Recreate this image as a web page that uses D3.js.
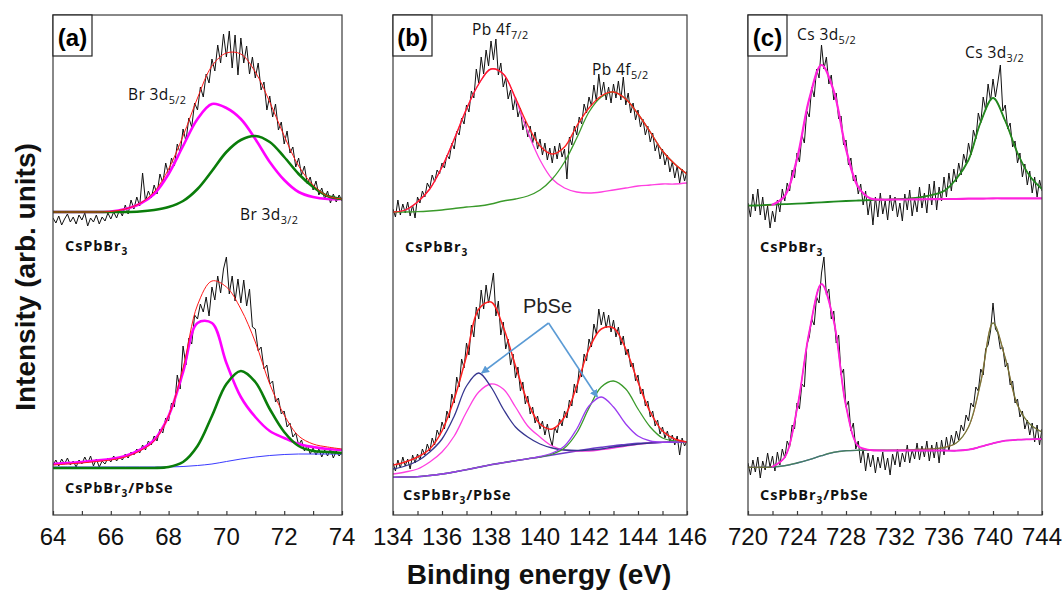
<!DOCTYPE html>
<html>
<head>
<meta charset="utf-8">
<script src="https://cdnjs.cloudflare.com/ajax/libs/d3/7.8.5/d3.min.js"></script>
<style>
  body { margin: 0; background: #fff; }
  svg { display: block; }
</style>
</head>
<body>
<div id="chart"></div>
<script>
// ---------- axes ----------
const domainA = [64, 74], domainB = [134, 146], domainC = [720, 744];
const ticksA = [64, 65, 66, 67, 68, 69, 70, 71, 72, 73, 74];
const ticksB = [134, 135, 136, 137, 138, 139, 140, 141, 142, 143, 144, 145, 146];
const ticksC = [720, 722, 724, 726, 728, 730, 732, 734, 736, 738, 740, 742, 744];
const tickLabelsA = [64, 66, 68, 70, 72, 74];
const tickLabelsB = [134, 136, 138, 140, 142, 144, 146];
const tickLabelsC = [720, 724, 728, 732, 736, 740, 744];

// ---------- measured spectra (energy start, step in eV) ----------
const scanA = [64, 0.1], scanB = [134, 0.1], scanC = [720, 0.2];

const aTopCounts = [
  297,292,299,290,296,301,293,298,291,300,
  295,302,289,297,293,300,291,298,294,302,
  296,303,297,305,299,310,301,315,306,318,
  309,342,314,324,317,330,321,341,332,352,
  340,357,349,371,362,386,374,397,388,412,
  405,428,418,441,432,456,444,470,452,481,
  458,484,447,480,440,477,452,469,441,458,
  437,452,425,433,405,419,398,411,385,393,
  371,384,362,368,348,357,340,349,331,338,
  325,334,320,327,316,324,312,321,313,320,314];
const aBottomCounts = [
  50,55,49,56,51,57,50,54,48,55,
  51,58,52,59,49,56,48,54,51,57,
  53,59,54,58,55,61,57,63,60,66,
  62,70,65,74,70,79,74,86,82,97,
  94,112,108,140,126,169,150,177,171,200,
  196,211,203,218,199,228,215,239,222,246,
  258,221,239,214,236,212,235,209,226,188,
  186,164,168,146,150,131,134,113,117,101,
  104,88,92,78,82,70,75,64,70,61,
  67,60,66,58,65,59,66,57,64,59,63];
const bTopCounts = [
  306,298,315,300,311,302,313,299,310,297,
  318,312,324,318,332,327,340,333,345,341,
  352,347,360,356,372,366,384,380,397,391,
  410,403,424,417,446,432,458,441,465,449,
  474,455,476,440,452,428,437,416,425,405,
  418,398,407,385,394,378,389,372,383,366,
  376,360,372,355,367,352,369,356,372,358,
  366,336,378,370,389,380,398,391,411,402,
  418,409,430,414,441,420,433,415,428,412,
  431,417,434,415,438,410,422,402,412,395,
  405,388,396,380,389,373,382,364,372,356,
  366,350,360,343,353,337,349,332,346,334,344];
const bBottomCounts = [
  52,44,55,47,58,49,56,46,60,52,
  61,55,66,60,71,64,77,70,85,79,
  93,86,104,97,121,112,138,128,156,147,
  172,160,190,178,208,196,225,206,230,212,
  226,242,199,214,180,193,166,176,150,161,
  137,148,124,133,111,119,101,108,92,99,
  86,94,80,91,78,69,88,82,96,89,
  104,97,115,109,131,122,146,138,161,154,
  176,168,191,181,206,190,203,187,200,183,
  195,178,188,170,179,160,166,148,152,134,
  140,121,126,109,114,98,104,89,95,81,
  88,77,84,73,80,70,79,60,77,69,74];
const cTopCounts = [
  312,298,321,304,326,300,318,295,309,287,
  304,293,315,303,326,314,332,324,345,337,
  362,353,380,372,404,398,428,418,446,437,
  470,446,458,431,440,415,422,396,399,370,
  375,350,357,334,340,321,331,310,324,300,
  316,290,318,298,322,301,314,295,320,304,
  318,298,312,294,321,305,325,299,316,303,
  328,307,322,302,331,310,334,305,328,314,
  338,318,342,324,346,333,352,340,361,352,
  372,360,385,376,402,392,418,405,431,414,
  436,418,433,450,404,410,386,392,368,374,
  352,362,338,351,330,344,322,338,318,335,324];
const cBottomCounts = [
  52,40,55,43,58,37,54,45,62,48,
  59,44,63,50,66,57,74,68,90,86,
  112,106,131,128,170,178,196,190,218,212,
  242,258,220,226,196,204,172,180,140,146,
  108,114,84,92,66,74,52,66,44,62,
  48,60,42,58,47,63,45,57,40,61,
  50,66,48,62,53,70,52,65,56,72,
  55,69,58,74,54,70,57,73,52,75,
  60,78,64,80,70,84,75,90,84,100,
  94,112,108,128,124,146,140,166,170,184,
  212,186,182,166,168,148,152,130,134,112,
  116,98,104,86,95,80,92,73,90,70,86];

// ---------- fitted components (energy start, step in eV) ----------
const fitGridA = [64, 0.5], fitGridB = [134, 0.5], fitGridC = [720, 1];

const aTopMagenta = [303,303,303,303,303.5,306,311,321,341,369,396,411,407,396,376,353,335,323,318,316,316];
const aTopGreen   = [303,303,303,303,303,303,303.5,305,308,314,326,344,363,375,379,373,358,341,328,319,316];
const aTopEnvelope = [303,303,303,303,303.5,306,311.5,323,346,379,417,449,462,461,443,413,379,349,330,319,316];

const aBottomBackground = [48,48,48,48,48,48,48,48,48,48.5,49.5,51,53.5,56,58,59.5,60.5,61,61,61,61];
const aBottomMagenta = [51,52,53,54.5,56,59,65,75,99,143,192,192,152,118,98,84,77,71,68,66,65];
const aBottomGreen   = [47,47,47,47,47,47,47,47,48,53,69,99,131,144,133,106,83,69,64,63,62];
const aBottomEnvelope = [50,51,52,53.5,55,58,64,74,99,147,210,234,228,206,173,131,100,79,71,68,66];

const bTopMagenta = [303,305,313,326,348,376,406,431,446,441,416,383,355,336,327,323,322,323,325,327,329,330,331,331,332];
const bTopGreen   = [303,303,303.3,304,305,306.5,308,309,311,314,316,319,325,336,353,377,403,418,423,416,401,383,364,351,341];
const bTopEnvelope = [303,305,313,326,348,376,406,431,446,441,417,390,369,361,368,389,407,419,423,416,401,383,364,351,341];

const bBottomBackground = [37.7,38,38.3,39.5,41,43,45.3,47.8,50.3,52.3,54.3,56.2,58,60,62,64,66,67.7,69.3,70.5,71.7,72.2,72.7,73,73.3];
const bBottomMagenta = [41,43,46,53,63,79,103,123,131,126,108,89,78,69,65,64,64,65.3,67,69,70.7,72,72.7,73,73.3];
const bBottomNavy    = [46,49,54,63,76,99,129,142,128,106,88,78,71,67,65,64.5,65,66,68,69.5,71,72,72.7,73,73.3];
const bBottomGreen   = [37.7,38,38.3,39.5,41,43,45.3,47.8,50.3,52.3,54.3,56.2,58,61,67,82,107,128,134,126,106,88,77,74,73.3];
const bBottomPurple  = [37.7,38,38.3,39.5,41,43,45.3,47.8,50.3,52.3,54.3,56.2,58.5,62,69,86,109,118,108,91,79,74,72.7,73,73.3];
const bBottomEnvelope = [50,53,58,66,84,116,159,206,213,188,149,113,91,86,98,129,166,186,187,166,133,103,84,76,73];

const cTopMagenta = [null,null,310.3,319,356,416,450,424,366,328,316.5,315.3,315.5,315.5,315.7,315.8,316,316,316.3,316.3,316.7,316.7,316.7,316.7,316.7];
const cTopGreen   = [309.3,309.7,310.3,310.8,311.3,312,312.7,313.3,314,314.5,315,315.3,315.7,316.3,317.7,320,324,336,355,393,417,394,362,339,326];
const cTopEnvelope = [309.3,309.7,310.3,319,356,416,450,424,366,328,316.5,315.5,315.7,316.3,317.7,320,324,336,355,393,417,394,362,339,326];

const cBottomBackground = [47.7,47.7,48,49.3,52,55.3,59.3,62.7,64.3,64.7,64.7,64.5,64.5,64.5,64.5,64.5,64.5,64.3,65.3,68.3,71.7,74.3,75.3,75.7,76];
const cBottomMagenta = [null,null,48.5,57.7,106,183,231,194,109,69,65,64.5,64.5,64.5,64.5,64.5,64.5,64.3,65.3,68.3,71.7,74.3,75.3,75.7,76];
const cBottomGreen   = [47.7,47.7,48,49.3,52,55.3,59.3,62.7,64.3,64.7,64.7,64.7,64.7,65,65.7,66,67.5,72,88,133,192,157,110,91,83];
const cBottomEnvelope = [47.7,47.7,48.5,57.7,106,183,231,194,109,69,65,64.7,64.7,65,65.7,66,67.5,72,88,133,192,157,110,91,83];

// PbSe arrow annotation: [energy, intensity] of tail and heads
const pbseArrowTail = [140.35, 192];
const pbseArrowHeads = [[137.62, 142], [142.34, 118]];

// ---------- layout ----------
const W = 1064, H = 590;
const plotTop = 15, plotBottom = 515;
const axisFont = "'Liberation Sans', Arial, sans-serif";
const noteFont = "'Open Sans', 'Noto Sans', sans-serif";

const series = (grid, values) => values.map((v, i) => ({ e: grid[0] + i * grid[1], v }));

const panels = [
  {
    key: "(a)", left: 53, right: 342, domain: domainA, ticks: ticksA, tickLabels: tickLabelsA,
    spectra: [series(scanA, aTopCounts), series(scanA, aBottomCounts)],
    fits: [
      { d: series(fitGridA, aTopMagenta), color: "#ff00ff", w: 2.6 },
      { d: series(fitGridA, aTopGreen), color: "#0a7d0a", w: 2.6 },
      { d: series(fitGridA, aTopEnvelope), color: "#ff1a1a", w: 1 },
      { d: series(fitGridA, aBottomBackground), color: "#3a3aff", w: 1 },
      { d: series(fitGridA, aBottomMagenta), color: "#ff00ff", w: 2.6 },
      { d: series(fitGridA, aBottomGreen), color: "#0a7d0a", w: 2.6 },
      { d: series(fitGridA, aBottomEnvelope), color: "#ff1a1a", w: 1 }
    ],
    labels: [
      { x: 75, y: 100, parts: [["Br 3d"], ["5/2", 1]] },
      { x: 187, y: 220, parts: [["Br 3d"], ["3/2", 1]] },
      { x: 12, y: 251, bold: 1, parts: [["CsPbBr"], ["3", 1]] },
      { x: 12, y: 493, bold: 1, parts: [["CsPbBr"], ["3", 1], ["/PbSe"]] }
    ]
  },
  {
    key: "(b)", left: 393, right: 687, domain: domainB, ticks: ticksB, tickLabels: tickLabelsB,
    spectra: [series(scanB, bTopCounts), series(scanB, bBottomCounts)],
    fits: [
      { d: series(fitGridB, bTopMagenta), color: "#ff40e0", w: 1.3 },
      { d: series(fitGridB, bTopGreen), color: "#3a9a2a", w: 1.3 },
      { d: series(fitGridB, bTopEnvelope), color: "#ff2020", w: 1.3 },
      { d: series(fitGridB, bBottomBackground), color: "#6a3cc8", w: 1.6 },
      { d: series(fitGridB, bBottomMagenta), color: "#ff40e0", w: 1.3 },
      { d: series(fitGridB, bBottomNavy), color: "#35358f", w: 1.3 },
      { d: series(fitGridB, bBottomGreen), color: "#3a9a2a", w: 1.3 },
      { d: series(fitGridB, bBottomPurple), color: "#9a3cf0", w: 1.3 },
      { d: series(fitGridB, bBottomEnvelope), color: "#ff2020", w: 1.5 }
    ],
    labels: [
      { x: 79, y: 35, parts: [["Pb 4f"], ["7/2", 1]] },
      { x: 199, y: 75, parts: [["Pb 4f"], ["5/2", 1]] },
      { x: 12, y: 252, bold: 1, parts: [["CsPbBr"], ["3", 1]] },
      { x: 10, y: 500, bold: 1, parts: [["CsPbBr"], ["3", 1], ["/PbSe"]] }
    ],
    arrows: true
  },
  {
    key: "(c)", left: 748, right: 1042, domain: domainC, ticks: ticksC, tickLabels: tickLabelsC,
    spectra: [series(scanC, cTopCounts), series(scanC, cBottomCounts)],
    fits: [
      { d: series(fitGridC, cTopEnvelope), color: "#ff2020", w: 1 },
      { d: series(fitGridC, cTopGreen), color: "#1f8a1f", w: 1.8 },
      { d: series(fitGridC, cTopMagenta), color: "#ff22dd", w: 2.2 },
      { d: series(fitGridC, cBottomBackground), color: "#3050d0", w: 1.3 },
      { d: series(fitGridC, cBottomEnvelope), color: "#ff2020", w: 1 },
      { d: series(fitGridC, cBottomGreen), color: "#4c8a3a", w: 1.4, op: 0.75 },
      { d: series(fitGridC, cBottomMagenta), color: "#ff22dd", w: 1.8 }
    ],
    labels: [
      { x: 49, y: 40, parts: [["Cs 3d"], ["5/2", 1]] },
      { x: 217, y: 58, parts: [["Cs 3d"], ["3/2", 1]] },
      { x: 12, y: 252, bold: 1, parts: [["CsPbBr"], ["3", 1]] },
      { x: 12, y: 500, bold: 1, parts: [["CsPbBr"], ["3", 1], ["/PbSe"]] }
    ]
  }
];

const svg = d3.select("#chart").append("svg").attr("width", W).attr("height", H);
const defs = svg.append("defs");
defs.append("marker")
  .attr("id", "arrowhead").attr("viewBox", "0 0 10 10")
  .attr("refX", 9).attr("refY", 5)
  .attr("markerWidth", 5).attr("markerHeight", 5)
  .attr("orient", "auto-start-reverse")
  .append("path").attr("d", "M0,0 L10,5 L0,10 z").attr("fill", "#5b9bd5");

const y = d3.scaleLinear().domain([0, 500]).range([plotBottom, plotTop]);

panels.forEach((p, i) => {
  const x = d3.scaleLinear().domain(p.domain).range([p.left, p.right]);
  const clipId = "clip" + i;
  defs.append("clipPath").attr("id", clipId)
    .append("rect").attr("x", p.left).attr("y", plotTop)
    .attr("width", p.right - p.left).attr("height", plotBottom - plotTop);

  const g = svg.append("g");
  const plot = g.append("g").attr("clip-path", `url(#${clipId})`);

  const rawLine = d3.line().x(d => x(d.e)).y(d => y(d.v));
  const fitLine = d3.line().defined(d => d.v != null)
    .x(d => x(d.e)).y(d => y(d.v)).curve(d3.curveCatmullRom.alpha(0.5));

  // measured spectra
  p.spectra.forEach(s => {
    plot.append("path").attr("d", rawLine(s))
      .attr("fill", "none").attr("stroke", "#111")
      .attr("stroke-width", 1).attr("stroke-linejoin", "round");
  });

  // fitted curves
  p.fits.forEach(f => {
    plot.append("path").attr("d", fitLine(f.d))
      .attr("fill", "none").attr("stroke", f.color)
      .attr("stroke-opacity", f.op || 1)
      .attr("stroke-width", f.w).attr("stroke-linecap", "round");
  });

  // frame
  g.append("rect")
    .attr("x", p.left).attr("y", plotTop)
    .attr("width", p.right - p.left).attr("height", plotBottom - plotTop)
    .attr("fill", "none").attr("stroke", "#3a3a3a").attr("stroke-width", 1.2);

  // bottom axis: inward ticks
  const axis = g.append("g").attr("transform", `translate(0,${plotBottom})`)
    .call(d3.axisBottom(x).tickValues(p.ticks).tickSizeInner(-4).tickSizeOuter(0).tickFormat(""));
  axis.select(".domain").remove();
  axis.selectAll(".tick line").attr("stroke", "#3a3a3a").attr("stroke-width", 1.2);

  g.selectAll(".tlab").data(p.tickLabels).enter().append("text")
    .attr("x", d => x(d)).attr("y", 545)
    .attr("text-anchor", "middle")
    .style("font-family", axisFont).style("font-size", "24px").style("fill", "#111")
    .text(d => d);

  // panel tag box
  g.append("rect").attr("x", p.left).attr("y", plotTop).attr("width", 39).attr("height", 41)
    .attr("fill", "#fff").attr("stroke", "#222").attr("stroke-width", 1.2);
  g.append("text").attr("x", p.left + 19.5).attr("y", plotTop + 31)
    .attr("text-anchor", "middle")
    .style("font-family", axisFont).style("font-weight", "bold").style("font-size", "24px")
    .text(p.key);

  // annotations
  p.labels.forEach(l => {
    const t = g.append("text").attr("x", p.left + l.x).attr("y", l.y)
      .style("font-family", noteFont)
      .style("font-size", l.bold ? "14.5px" : "15.5px")
      .style("font-weight", l.bold ? "bold" : "normal")
      .style("letter-spacing", l.bold ? "0.9px" : "0.4px")
      .style("fill", "#111");
    let lowered = false;
    l.parts.forEach(([txt, sub]) => {
      const ts = t.append("tspan").text(txt);
      if (sub && !lowered) { ts.attr("dy", 4).style("font-size", "70%"); lowered = true; }
      else if (sub) { ts.style("font-size", "70%"); }
      else if (lowered) { ts.attr("dy", -4); lowered = false; }
    });
  });

  if (p.arrows) {
    const tx = x(pbseArrowTail[0]), ty = y(pbseArrowTail[1]);
    g.append("text").attr("x", tx - 1).attr("y", ty - 10)
      .attr("text-anchor", "middle")
      .style("font-family", axisFont).style("font-size", "20px").style("fill", "#222")
      .text("PbSe");
    pbseArrowHeads.forEach(h => {
      g.append("line")
        .attr("x1", tx).attr("y1", ty)
        .attr("x2", x(h[0])).attr("y2", y(h[1]))
        .attr("stroke", "#5b9bd5").attr("stroke-width", 1.6)
        .attr("marker-end", "url(#arrowhead)");
    });
  }
});

// axis titles
svg.append("text")
  .attr("transform", "translate(35,277) rotate(-90)")
  .attr("text-anchor", "middle")
  .style("font-family", axisFont).style("font-weight", "bold").style("font-size", "28px")
  .style("fill", "#111")
  .text("Intensity (arb. units)");

svg.append("text")
  .attr("x", 539).attr("y", 584)
  .attr("text-anchor", "middle")
  .style("font-family", axisFont).style("font-weight", "bold").style("font-size", "28px")
  .style("fill", "#111")
  .text("Binding energy (eV)");
</script>
</body>
</html>
